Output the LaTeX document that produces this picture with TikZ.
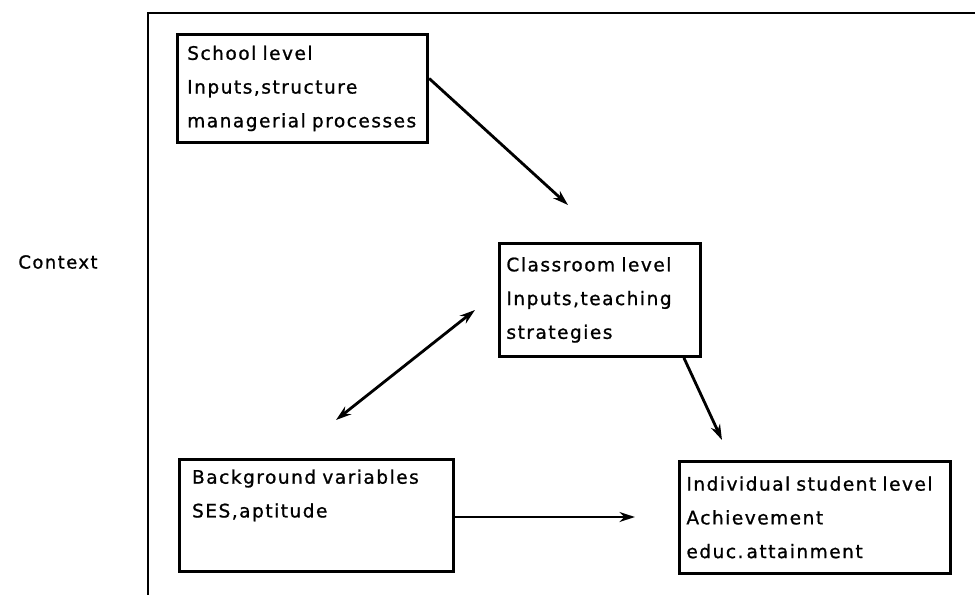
\documentclass[tikz,border=0pt]{standalone}
\usepackage{fontspec}
\setmainfont{DejaVu Sans}[LetterSpace=8,FakeBold=1]
\usepackage{tikz}
\usetikzlibrary{arrows.meta}

\begin{document}
\begin{tikzpicture}[x=0.025cm,y=-0.025cm,
		level/.style={draw,line width=2pt,anchor=north west,align=left,inner xsep=5pt,font=\fontsize{13.2}{24}\selectfont},
		tip/.tip={Stealth[length=11pt,width=7pt]},
		link/.style={line width=2pt,-tip}]
		\useasboundingbox (0,0) rectangle (975,595);
		\draw[line width=2pt] (975,13) -- (148,13) -- (148,595);
		\node[font=\fontsize{12.8}{15}\selectfont] (context) at (58,262) {Context};
		\node[level,inner xsep=7pt,text width=164pt,minimum height=2.7cm] (school) at (176,33) {School level\\Inputs,structure\\managerial processes};
		\node[level,text width=133pt,minimum height=2.825cm] (classroom) at (498,242) {Classroom level\\Inputs,teaching\\strategies};
		\node[level,inner xsep=9pt,text width=177pt,minimum height=2.8cm] (background) at (178,458) {Background variables\\SES,aptitude\\\strut};
		\node[level,text width=183pt,minimum height=2.8cm] (student) at (678,460) {Individual student level\\Achievement\\educ.\,attainment};
		\coordinate (a) at (568,205);
		\coordinate (b) at (722,440);
		\coordinate (c) at (635,517);
		\coordinate (d1) at (336,420);
		\coordinate (d2) at (475,310);
		\draw[link] ([yshift=0.25cm]school.east) -- (a);
		\draw[link] ([xshift=-0.45cm]classroom.south east) -- (b);
		\draw[link] (background.east |- c) -- (c);
		\draw[link,tip-tip] (d1) -- (d2);
\end{tikzpicture}
\end{document}
